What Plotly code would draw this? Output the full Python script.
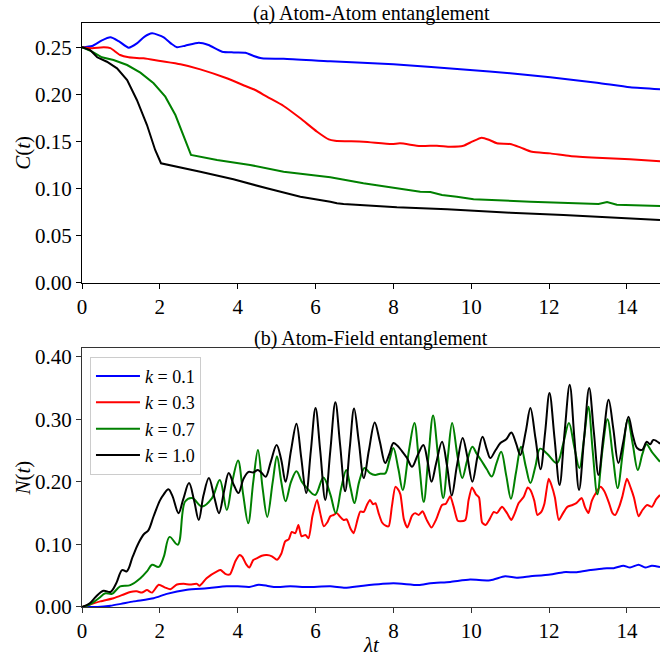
import plotly.graph_objects as go

# ---------------- data: (a) Atom-Atom entanglement C(t) ----------------
ta_k01 = [0, 0.26, 0.5, 0.73, 0.94, 1.2, 1.41, 1.6, 1.8, 2.1, 2.3, 2.44, 2.65, 3.0, 3.25, 3.6, 3.9, 4.2, 4.41, 4.62, 5.18, 6.38, 8.0, 9.97, 11.0, 12.03, 13.23, 14.08, 14.85]
C_k01 = [0.25, 0.2513, 0.257, 0.2605, 0.2565, 0.2495, 0.254, 0.261, 0.2647, 0.2605, 0.2535, 0.25, 0.2516, 0.2548, 0.2523, 0.2452, 0.2445, 0.2442, 0.2407, 0.2382, 0.2378, 0.235, 0.2318, 0.2258, 0.2223, 0.218, 0.2123, 0.2074, 0.2053]

ta_k03 = [0, 0.26, 0.56, 0.73, 0.98, 1.2, 1.58, 2.01, 2.53, 3.04, 3.72, 4.2, 4.45, 4.75, 5.18, 5.61, 6.04, 6.34, 6.5, 7.23, 7.96, 8.17, 8.69, 9.12, 9.47, 9.8, 10.02, 10.27, 10.47, 10.66, 11.0, 11.26, 11.56, 12.03, 12.54, 13.23, 14.08, 14.85]
C_k03 = [0.25, 0.249, 0.25, 0.249, 0.2417, 0.2393, 0.2382, 0.2353, 0.2318, 0.2265, 0.217, 0.2088, 0.2046, 0.1975, 0.1876, 0.1745, 0.1603, 0.1522, 0.1508, 0.1497, 0.1472, 0.148, 0.1451, 0.1455, 0.1444, 0.1454, 0.1497, 0.154, 0.1515, 0.148, 0.1473, 0.1437, 0.139, 0.1373, 0.1345, 0.1327, 0.131, 0.1289]

ta_k07 = [0, 0.26, 0.51, 0.81, 1.16, 1.5, 1.84, 2.14, 2.4, 2.61, 2.8, 3.47, 4.32, 5.18, 6.38, 7.23, 8.09, 8.69, 8.95, 9.25, 9.63, 10.06, 11.52, 12.97, 13.27, 13.49, 13.74, 14.85]
C_k07 = [0.25, 0.2454, 0.2393, 0.2364, 0.2311, 0.223, 0.2117, 0.1975, 0.178, 0.155, 0.1356, 0.1303, 0.125, 0.1178, 0.1119, 0.1055, 0.1002, 0.0966, 0.0963, 0.0931, 0.0913, 0.0885, 0.086, 0.0843, 0.0836, 0.0857, 0.0828, 0.0814]

ta_k10 = [0, 0.21, 0.39, 0.64, 0.9, 1.16, 1.41, 1.67, 1.88, 2.03, 3.04, 3.89, 4.75, 5.61, 6.38, 6.55, 6.72, 8.09, 9.38, 9.97, 11.0, 12.37, 13.23, 14.85]
C_k10 = [0.25, 0.247, 0.2393, 0.2346, 0.2276, 0.2152, 0.194, 0.1674, 0.1409, 0.1268, 0.1178, 0.1098, 0.1002, 0.0913, 0.086, 0.0843, 0.0836, 0.08, 0.0779, 0.0765, 0.0743, 0.0719, 0.070, 0.0666]

# ---------------- data: (b) Atom-Field entanglement N(t) ----------------
tb_k01 = [0, 0.4, 0.73, 1.0, 1.33, 1.84, 2.18, 2.7, 3.21, 3.72, 4.0, 4.3, 4.54, 4.75, 4.93, 5.35, 5.8, 6.38, 6.76, 7.23, 8.0, 8.65, 8.95, 9.46, 9.97, 10.49, 10.87, 11.17, 11.52, 12.03, 12.37, 12.71, 13.06, 13.4, 13.66, 13.91, 14.08, 14.3, 14.47, 14.64, 14.85]
N_k01 = [0, 0.0, 0.002, 0.005, 0.009, 0.014, 0.021, 0.0276, 0.030, 0.033, 0.033, 0.032, 0.0356, 0.034, 0.032, 0.033, 0.032, 0.033, 0.0306, 0.034, 0.0378, 0.035, 0.0378, 0.040, 0.0438, 0.0426, 0.049, 0.0468, 0.049, 0.052, 0.0557, 0.0557, 0.059, 0.0617, 0.062, 0.066, 0.063, 0.0676, 0.063, 0.066, 0.064]

tb_k03 = [0, 0.47, 0.81, 1.07, 1.24, 1.41, 1.54, 1.67, 1.8, 1.97, 2.14, 2.27, 2.44, 2.61, 2.78, 2.95, 3.02, 3.2, 3.47, 3.56, 3.68, 3.8, 3.94, 4.05, 4.12, 4.22, 4.3, 4.4, 4.5, 4.62, 4.75, 4.88, 5.01, 5.12, 5.22, 5.31, 5.39, 5.48, 5.56, 5.64, 5.74, 5.82, 5.92, 6.04, 6.12, 6.21, 6.3, 6.38, 6.46, 6.55, 6.62, 6.72, 6.8, 6.9, 6.98, 7.08, 7.15, 7.24, 7.32, 7.4, 7.48, 7.54, 7.62, 7.71, 7.8, 7.88, 7.96, 8.05, 8.12, 8.18, 8.27, 8.36, 8.48, 8.56, 8.65, 8.75, 8.85, 8.98, 9.1, 9.25, 9.35, 9.46, 9.55, 9.65, 9.72, 9.85, 9.93, 10.02, 10.12, 10.2, 10.28, 10.37, 10.47, 10.58, 10.66, 10.79, 10.92, 11.03, 11.12, 11.22, 11.35, 11.45, 11.52, 11.62, 11.7, 11.8, 11.88, 11.99, 12.06, 12.15, 12.25, 12.36, 12.47, 12.6, 12.7, 12.84, 12.92, 13.01, 13.1, 13.23, 13.32, 13.42, 13.53, 13.63, 13.7, 13.8, 13.88, 14.0, 14.1, 14.18, 14.3, 14.4, 14.52, 14.64, 14.75, 14.85]
N_k03 = [0, 0.009, 0.014, 0.02, 0.024, 0.025, 0.023, 0.027, 0.023, 0.0356, 0.031, 0.0285, 0.036, 0.037, 0.036, 0.037, 0.034, 0.046, 0.057, 0.059, 0.053, 0.052, 0.073, 0.083, 0.08, 0.068, 0.063, 0.075, 0.078, 0.082, 0.083, 0.081, 0.0755, 0.085, 0.105, 0.108, 0.12, 0.118, 0.131, 0.113, 0.115, 0.11, 0.145, 0.171, 0.15, 0.129, 0.135, 0.145, 0.147, 0.15, 0.145, 0.139, 0.14, 0.125, 0.118, 0.14, 0.1526, 0.152, 0.163, 0.171, 0.164, 0.166, 0.15, 0.135, 0.13, 0.129, 0.16, 0.192, 0.188, 0.18, 0.14, 0.127, 0.146, 0.15, 0.147, 0.153, 0.14, 0.127, 0.14, 0.163, 0.165, 0.177, 0.16, 0.138, 0.137, 0.139, 0.17, 0.191, 0.18, 0.175, 0.135, 0.131, 0.14, 0.152, 0.15, 0.16, 0.15, 0.139, 0.15, 0.166, 0.176, 0.191, 0.187, 0.17, 0.147, 0.152, 0.165, 0.205, 0.195, 0.175, 0.139, 0.15, 0.16, 0.163, 0.166, 0.174, 0.16, 0.15, 0.17, 0.185, 0.192, 0.185, 0.168, 0.15, 0.147, 0.16, 0.176, 0.205, 0.19, 0.175, 0.145, 0.155, 0.163, 0.16, 0.172, 0.179]

tb_k07 = [0, 0.2, 0.43, 0.6, 0.77, 0.98, 1.24, 1.5, 1.67, 1.8, 1.97, 2.1, 2.25, 2.46, 2.65, 2.83, 3.08, 3.34, 3.54, 3.72, 3.86, 4.01, 4.14, 4.27, 4.4, 4.52, 4.64, 4.76, 4.9, 5.01, 5.12, 5.23, 5.37, 5.51, 5.65, 5.78, 5.99, 6.2, 6.38, 6.52, 6.66, 6.79, 6.9, 7.0, 7.12, 7.26, 7.4, 7.53, 7.66, 7.79, 7.9, 8.0, 8.13, 8.24, 8.4, 8.54, 8.66, 8.78, 8.9, 9.02, 9.15, 9.28, 9.4, 9.51, 9.65, 9.77, 9.9, 10.03, 10.14, 10.25, 10.4, 10.53, 10.65, 10.77, 10.9, 11.02, 11.15, 11.28, 11.4, 11.52, 11.65, 11.77, 11.95, 12.2, 12.36, 12.51, 12.65, 12.78, 12.9, 13.01, 13.12, 13.24, 13.37, 13.5, 13.64, 13.76, 13.9, 14.02, 14.15, 14.28, 14.4, 14.5, 14.64, 14.85]
N_k07 = [0, 0.004, 0.014, 0.022, 0.021, 0.033, 0.035, 0.046, 0.057, 0.0675, 0.064, 0.08, 0.112, 0.0995, 0.1686, 0.174, 0.1605, 0.174, 0.203, 0.155, 0.2, 0.234, 0.18, 0.134, 0.2, 0.251, 0.19, 0.144, 0.2, 0.241, 0.2, 0.169, 0.2, 0.217, 0.2, 0.19, 0.179, 0.207, 0.18, 0.150, 0.19, 0.219, 0.19, 0.166, 0.2, 0.222, 0.214, 0.211, 0.213, 0.2135, 0.235, 0.254, 0.22, 0.187, 0.25, 0.294, 0.23, 0.168, 0.24, 0.306, 0.24, 0.174, 0.24, 0.294, 0.24, 0.206, 0.235, 0.256, 0.245, 0.235, 0.22, 0.2085, 0.23, 0.248, 0.21, 0.173, 0.215, 0.256, 0.225, 0.198, 0.225, 0.253, 0.245, 0.23, 0.26, 0.294, 0.255, 0.222, 0.27, 0.32, 0.25, 0.18, 0.25, 0.30, 0.24, 0.19, 0.25, 0.30, 0.26, 0.219, 0.245, 0.26, 0.248, 0.232]

tb_k10 = [0.0, 0.2, 0.35, 0.55, 0.73, 0.88, 1.03, 1.15, 1.3, 1.45, 1.6, 1.7, 1.84, 2.0, 2.1, 2.22, 2.32, 2.48, 2.6, 2.75, 2.88, 3.0, 3.12, 3.26, 3.4, 3.52, 3.65, 3.77, 3.9, 4.02, 4.15, 4.28, 4.4, 4.52, 4.62, 4.72, 4.85, 5.0, 5.12, 5.23, 5.37, 5.51, 5.63, 5.76, 5.88, 6.0, 6.12, 6.25, 6.38, 6.51, 6.63, 6.76, 6.88, 6.99, 7.11, 7.24, 7.37, 7.52, 7.65, 7.79, 7.9, 8.0, 8.1, 8.22, 8.35, 8.48, 8.62, 8.77, 8.88, 8.98, 9.1, 9.25, 9.38, 9.5, 9.63, 9.78, 9.9, 10.03, 10.16, 10.29, 10.4, 10.49, 10.62, 10.75, 10.9, 11.03, 11.15, 11.26, 11.4, 11.52, 11.65, 11.78, 11.9, 12.01, 12.14, 12.27, 12.4, 12.53, 12.65, 12.77, 12.9, 13.03, 13.15, 13.27, 13.4, 13.53, 13.65, 13.78, 13.91, 14.04, 14.15, 14.26, 14.39, 14.51, 14.6, 14.68, 14.85]
N_k10 = [0.0, 0.006, 0.016, 0.026, 0.024, 0.038, 0.059, 0.057, 0.080, 0.102, 0.117, 0.122, 0.145, 0.170, 0.180, 0.188, 0.178, 0.150, 0.172, 0.198, 0.170, 0.139, 0.178, 0.206, 0.175, 0.150, 0.185, 0.214, 0.195, 0.182, 0.205, 0.216, 0.215, 0.219, 0.214, 0.208, 0.232, 0.259, 0.235, 0.200, 0.250, 0.293, 0.240, 0.182, 0.250, 0.318, 0.250, 0.171, 0.250, 0.327, 0.260, 0.185, 0.255, 0.317, 0.265, 0.206, 0.250, 0.295, 0.265, 0.230, 0.245, 0.262, 0.258, 0.249, 0.238, 0.224, 0.242, 0.259, 0.232, 0.200, 0.230, 0.264, 0.225, 0.178, 0.225, 0.270, 0.240, 0.200, 0.240, 0.272, 0.252, 0.238, 0.250, 0.262, 0.268, 0.279, 0.262, 0.243, 0.280, 0.318, 0.270, 0.220, 0.280, 0.342, 0.270, 0.195, 0.280, 0.355, 0.270, 0.187, 0.270, 0.350, 0.280, 0.211, 0.275, 0.331, 0.285, 0.230, 0.265, 0.304, 0.275, 0.254, 0.251, 0.264, 0.260, 0.267, 0.261]

labels = ["<i>k</i> = 0.1", "<i>k</i> = 0.3", "<i>k</i> = 0.7", "<i>k</i> = 1.0"]
colors = ["#0000ff", "#ff0000", "#008000", "#000000"]

x_ticks = [0, 2, 4, 6, 8, 10, 12, 14]
ya_ticks = [0.00, 0.05, 0.10, 0.15, 0.20, 0.25]
yb_ticks = [0.00, 0.10, 0.20, 0.30, 0.40]

FONT = "Liberation Serif, Times New Roman, serif"

fig = go.Figure()

top = [(ta_k01, C_k01), (ta_k03, C_k03), (ta_k07, C_k07), (ta_k10, C_k10)]
bot = [(tb_k01, N_k01), (tb_k03, N_k03), (tb_k07, N_k07), (tb_k10, N_k10)]
top_shape = ["spline", "spline", "linear", "linear"]
bot_smooth = [0.6, 0.6, 1.0, 1.0]

for (t, v), c, lab, shp in zip(top, colors, labels, top_shape):
    line = dict(color=c, width=2, shape=shp)
    if shp == "spline":
        line["smoothing"] = 0.6
    fig.add_trace(go.Scatter(x=t, y=v, mode="lines", line=line,
                             name=lab, showlegend=False, xaxis="x", yaxis="y"))
for (t, v), c, lab, sm in zip(bot, colors, labels, bot_smooth):
    fig.add_trace(go.Scatter(x=t, y=v, mode="lines",
                             line=dict(color=c, width=2, shape="spline", smoothing=sm),
                             name=lab, showlegend=True, xaxis="x2", yaxis="y2"))

axis_common = dict(showgrid=False, zeroline=False, showline=True, mirror=True,
                   linewidth=1.2, ticks="outside", ticklen=5, tickwidth=1.2,
                   tickfont=dict(family=FONT, size=21, color="black"))

fig.update_layout(
    width=660, height=659,
    margin=dict(l=82, r=0, t=23, b=52),
    plot_bgcolor="white", paper_bgcolor="white",
    xaxis=dict(domain=[0, 1], range=[0, 14.85], tickvals=x_ticks,
               ticktext=[str(v) for v in x_ticks], anchor="y",
               linecolor="black", tickcolor="black", **axis_common),
    yaxis=dict(domain=[0.5553, 1], range=[0, 0.2757], tickvals=ya_ticks,
               ticktext=[f"{v:.2f}" for v in ya_ticks], anchor="x",
               linecolor="black", tickcolor="black", **axis_common),
    xaxis2=dict(domain=[0, 1], range=[0, 14.85], tickvals=x_ticks,
                ticktext=[str(v) for v in x_ticks], anchor="y2",
                linecolor="#333333", tickcolor="#333333", **axis_common),
    yaxis2=dict(domain=[0, 0.443], range=[0, 0.4134], tickvals=yb_ticks,
                ticktext=[f"{v:.2f}" for v in yb_ticks], anchor="x2",
                linecolor="#333333", tickcolor="#333333", **axis_common),
    legend=dict(x=0.0138, y=0.4286, xanchor="left", yanchor="top",
                bgcolor="rgba(255,255,255,0.85)", bordercolor="#cccccc", borderwidth=1,
                font=dict(family=FONT, size=18, color="black"),
                itemwidth=44, tracegroupgap=0),
    annotations=[
        dict(text="(a) Atom-Atom entanglement", xref="paper", yref="paper",
             x=0.5, y=1.0, xanchor="center", yanchor="bottom", yshift=-4, showarrow=False,
             font=dict(family=FONT, size=20, color="black")),
        dict(text="(b) Atom-Field entanglement", xref="paper", yref="paper",
             x=0.5, y=0.443, xanchor="center", yanchor="bottom", yshift=-4, showarrow=False,
             font=dict(family=FONT, size=20, color="black")),
        dict(text="<i>C</i>(<i>t</i>)", xref="paper", yref="paper",
             x=-0.1022, y=0.7776, xanchor="center", yanchor="middle", textangle=-90,
             showarrow=False, font=dict(family=FONT, size=21, color="black")),
        dict(text="<i>N</i>(<i>t</i>)", xref="paper", yref="paper",
             x=-0.1022, y=0.2215, xanchor="center", yanchor="middle", textangle=-90,
             showarrow=False, font=dict(family=FONT, size=21, color="black")),
        dict(text="<i>λt</i>", xref="paper", yref="paper",
             x=0.5, y=-0.065, xanchor="center", yanchor="middle", showarrow=False,
             font=dict(family=FONT, size=21, color="black")),
    ],
)

fig.write_html("out.html")
